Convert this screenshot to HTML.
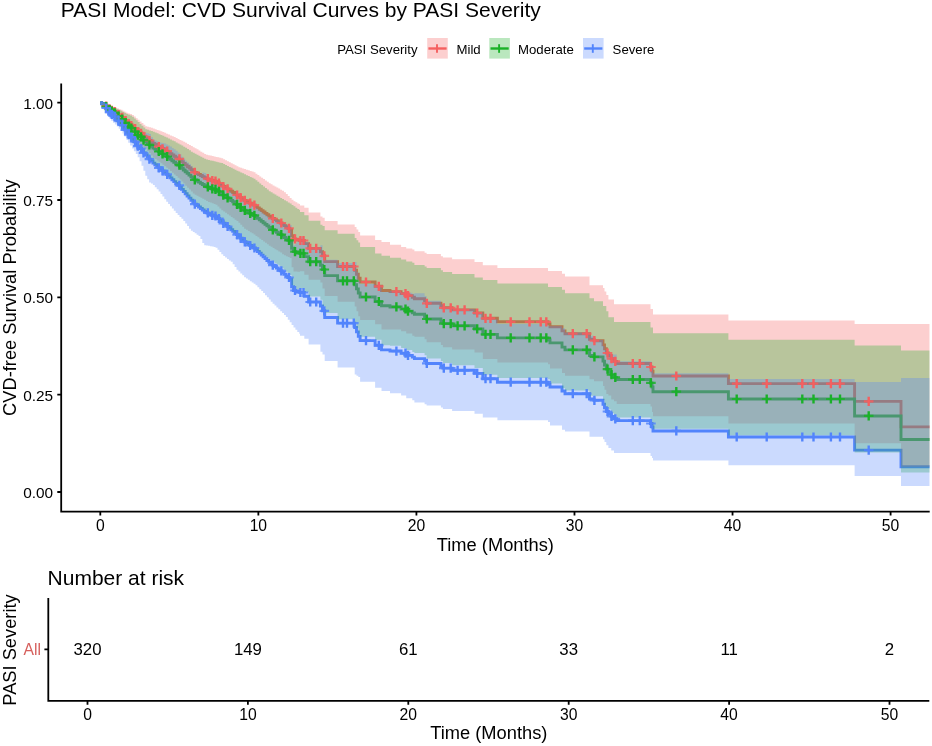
<!DOCTYPE html>
<html><head><meta charset="utf-8"><title>PASI Model: CVD Survival Curves</title>
<style>
html,body{margin:0;padding:0;background:#fff;}
body{width:932px;height:746px;overflow:hidden;}
svg{display:block;font-family:"Liberation Sans",sans-serif;will-change:transform;}
</style></head><body>
<svg width="932" height="746" viewBox="0 0 932 746">
<defs><clipPath id="pc"><rect x="61" y="83" width="868.7" height="428"/></clipPath></defs>
<rect width="932" height="746" fill="#fff"/>
<text x="60.8" y="16.7" font-size="21" fill="#000">PASI Model: CVD Survival Curves by PASI Severity</text>
<text x="337.2" y="53.6" font-size="13.2" fill="#000">PASI Severity</text>
<rect x="427.2" y="38" width="20.6" height="20.6" fill="#F55F5F" fill-opacity="0.3"/>
<path d="M428.4,48.5h18.2" stroke="#F55F5F" stroke-width="2.4" fill="none"/><path d="M437.0,44.2v8.6" stroke="#F55F5F" stroke-width="1.9" fill="none"/>
<text x="456.5" y="53.6" font-size="13.2" fill="#000">Mild</text>
<rect x="489.3" y="38" width="20.6" height="20.6" fill="#19B128" fill-opacity="0.3"/>
<path d="M490.5,48.5h18.2" stroke="#19B128" stroke-width="2.4" fill="none"/><path d="M499.1,44.2v8.6" stroke="#19B128" stroke-width="1.9" fill="none"/>
<text x="518.0" y="53.6" font-size="13.2" fill="#000">Moderate</text>
<rect x="583.0" y="38" width="20.6" height="20.6" fill="#5284FC" fill-opacity="0.3"/>
<path d="M584.2,48.5h18.2" stroke="#5284FC" stroke-width="2.4" fill="none"/><path d="M592.8,44.2v8.6" stroke="#5284FC" stroke-width="1.9" fill="none"/>
<text x="612.6" y="53.6" font-size="13.2" fill="#000">Severe</text>
<g clip-path="url(#pc)">
<path d="M100.30,102.70H101.60V103.40H103.50V104.77H105.40V106.15H107.30V107.53H109.20V108.90H111.10V110.31H113.00V111.73H114.90V113.15H116.80V114.57H118.70V115.99H120.60V117.43H122.50V119.05H124.40V120.66H126.30V122.28H128.20V123.90H130.10V125.52H132.00V127.11H133.90V128.65H135.80V130.20H137.70V131.74H139.60V133.29H141.50V134.83H143.40V136.28H145.30V137.70H147.20V139.13H149.10V140.55H151.00V141.97H152.90V143.34H154.80V144.43H156.70V145.51H158.60V146.59H160.50V147.68H162.40V148.76H164.30V149.91H166.20V151.14H168.10V152.37H170.00V153.61H171.90V154.94H173.80V156.26H175.70V157.59H177.60V158.93H179.50V160.25H181.40V161.78H183.30V163.35H185.20V164.92H187.10V166.50H189.00V168.07H190.90V169.64H192.80V171.21H194.70V172.37H196.60V173.43H198.50V174.49H200.40V175.56H202.30V176.62H204.20V177.68H206.10V178.75H208.00V179.42H209.90V179.97H211.80V180.53H213.70V181.08H215.60V181.78H217.50V182.95H219.40V184.12H221.30V185.30H223.20V186.47H225.10V187.65H227.00V188.86H228.90V190.08H230.80V191.30H232.70V192.52H234.60V193.74H236.50V194.95H238.40V196.26H240.30V197.63H242.20V198.99H244.10V200.36H246.00V201.32H247.90V202.25H249.80V203.19H251.70V204.13H253.60V205.11H255.50V206.48H257.40V207.86H259.30V209.23H261.20V210.61H263.10V211.98H265.00V213.38H266.90V214.77H268.80V216.17H270.70V217.36H272.60V218.48H274.50V219.60H276.40V220.73H278.30V221.85H280.20V222.97H282.10V224.30H284.00V225.64H285.90V226.98H287.80V228.32H289.70V229.62H291.60V235.74H293.50V238.83H295.40V239.34H297.30V239.85H299.20V240.21H300.00V240.50H304.30V243.60H308.60V248.40H320.40V251.80H322.50V255.80H324.70V261.60H337.60V266.50H354.70V270.30H356.50V274.20H358.30V278.20H360.10V282.00H375.10V286.30H381.50V290.50H390.00V291.60H401.10V293.60H406.20V295.60H412.30V297.30H414.40V298.70H424.60V300.80H426.60V303.30H440.90V305.80H442.90V307.80H452.10V309.90H474.50V313.00H482.80V318.30H497.40V321.80H548.00V323.90H550.00V326.70H562.00V330.90H565.00V333.70H589.50V339.30H594.00V340.70H603.00V344.90H604.50V348.80H606.30V353.00H608.40V355.80H611.20V358.60H614.00V361.40H616.70V363.50H650.50V367.00H652.00V371.10H653.00V376.00H728.40V383.60H854.60V401.40H901.00V426.90H929.70" stroke="#F55F5F" stroke-width="2.9" fill="none"/>
<path d="M100.30,102.70H101.60V103.48H103.50V105.02H105.40V106.56H107.30V108.10H109.20V109.64H111.10V111.21H113.00V112.80H114.90V114.39H116.80V115.97H118.70V117.56H120.60V119.16H122.50V120.96H124.40V122.76H126.30V124.57H128.20V126.37H130.10V128.17H132.00V129.93H133.90V131.65H135.80V133.37H137.70V135.08H139.60V136.79H141.50V138.51H143.40V140.11H145.30V141.69H147.20V143.26H149.10V144.83H151.00V146.40H152.90V147.93H154.80V149.12H156.70V150.32H158.60V151.51H160.50V152.71H162.40V153.91H164.30V155.18H166.20V156.53H168.10V157.89H170.00V159.25H171.90V160.71H173.80V162.18H175.70V163.64H177.60V165.10H179.50V166.56H181.40V168.24H183.30V169.97H185.20V171.69H187.10V173.41H189.00V175.13H190.90V176.86H192.80V178.58H194.70V179.84H196.60V181.00H198.50V182.17H200.40V183.33H202.30V184.49H204.20V185.65H206.10V186.81H208.00V187.55H209.90V188.15H211.80V188.75H213.70V189.35H215.60V190.12H217.50V191.40H219.40V192.67H221.30V193.95H223.20V195.23H225.10V196.50H227.00V197.82H228.90V199.15H230.80V200.47H232.70V201.80H234.60V203.12H236.50V204.44H238.40V205.85H240.30V207.34H242.20V208.82H244.10V210.30H246.00V211.33H247.90V212.34H249.80V213.36H251.70V214.38H253.60V215.43H255.50V216.91H257.40V218.39H259.30V219.88H261.20V221.36H263.10V222.84H265.00V224.34H266.90V225.84H268.80V227.34H270.70V228.62H272.60V229.82H274.50V231.03H276.40V232.23H278.30V233.44H280.20V234.64H282.10V236.07H284.00V237.50H285.90V238.94H287.80V240.37H289.70V241.76H291.60V248.28H293.50V251.57H295.40V252.11H297.30V252.65H299.20V253.03H300.00V253.35H304.30V256.64H308.60V261.73H320.40V265.32H322.50V269.55H324.70V275.66H337.60V280.80H354.70V284.78H356.50V288.86H358.30V293.04H360.10V296.99H375.10V301.46H381.50V305.81H390.00V306.95H401.10V309.02H406.20V311.08H412.30V312.83H414.40V314.28H424.60V316.44H426.60V319.01H440.90V321.57H442.90V323.62H452.10V325.77H474.50V328.93H482.80V334.33H497.40V337.89H548.00V340.01H550.00V342.85H562.00V347.09H565.00V349.90H589.50V355.52H594.00V356.92H603.00V361.11H604.50V364.99H606.30V369.16H608.40V371.93H611.20V374.69H614.00V377.44H616.70V379.50H650.50V382.93H652.00V386.93H653.00V391.69H728.40V399.02H854.60V415.94H901.00V439.47H929.70" stroke="#19B128" stroke-width="2.9" fill="none"/>
<path d="M100.30,102.70H101.60V103.77H103.50V105.87H105.40V107.97H107.30V110.06H109.20V112.15H111.10V114.28H113.00V116.43H114.90V118.57H116.80V120.72H118.70V122.85H120.60V125.01H122.50V127.43H124.40V129.85H126.30V132.26H128.20V134.67H130.10V137.07H132.00V139.42H133.90V141.70H135.80V143.98H137.70V146.25H139.60V148.51H141.50V150.78H143.40V152.89H145.30V154.96H147.20V157.03H149.10V159.09H151.00V161.15H152.90V163.13H154.80V164.70H156.70V166.25H158.60V167.81H160.50V169.37H162.40V170.92H164.30V172.57H166.20V174.32H168.10V176.07H170.00V177.83H171.90V179.71H173.80V181.60H175.70V183.48H177.60V185.35H179.50V187.22H181.40V189.37H183.30V191.57H185.20V193.76H187.10V195.95H189.00V198.14H190.90V200.32H192.80V202.49H194.70V204.08H196.60V205.55H198.50V207.01H200.40V208.47H202.30V209.93H204.20V211.38H206.10V212.83H208.00V213.75H209.90V214.50H211.80V215.25H213.70V216.00H215.60V216.95H217.50V218.54H219.40V220.13H221.30V221.71H223.20V223.29H225.10V224.87H227.00V226.50H228.90V228.13H230.80V229.76H232.70V231.38H234.60V233.01H236.50V234.62H238.40V236.35H240.30V238.16H242.20V239.96H244.10V241.76H246.00V243.01H247.90V244.24H249.80V245.47H251.70V246.69H253.60V247.96H255.50V249.75H257.40V251.53H259.30V253.31H261.20V255.08H263.10V256.85H265.00V258.64H266.90V260.43H268.80V262.21H270.70V263.72H272.60V265.15H274.50V266.57H276.40V267.99H278.30V269.41H280.20V270.82H282.10V272.50H284.00V274.18H285.90V275.85H287.80V277.52H289.70V279.14H291.60V286.68H293.50V290.46H295.40V291.08H297.30V291.69H299.20V292.13H300.00V292.49H304.30V296.24H308.60V301.99H320.40V306.04H322.50V310.75H324.70V317.52H337.60V323.16H354.70V327.50H356.50V331.90H358.30V336.38H360.10V340.59H375.10V345.31H381.50V349.87H390.00V351.05H401.10V353.20H406.20V355.34H412.30V357.14H414.40V358.62H424.60V360.83H426.60V363.45H440.90V366.04H442.90V368.11H452.10V370.26H474.50V373.42H482.80V378.75H497.40V382.22H548.00V384.29H550.00V387.02H562.00V391.07H565.00V393.74H589.50V399.01H594.00V400.31H603.00V404.18H604.50V407.72H606.30V411.47H608.40V413.94H611.20V416.38H614.00V418.79H616.70V420.59H650.50V423.54H652.00V426.95H653.00V430.94H728.40V436.95H854.60V450.16H901.00V466.77H929.70" stroke="#5284FC" stroke-width="2.9" fill="none"/>
<path d="M100.30,102.70L101.60,102.70L101.60,102.70L103.50,102.70L103.50,103.22L105.40,103.22L105.40,103.91L107.30,103.91L107.30,104.61L109.20,104.61L109.20,105.30L111.10,105.30L111.10,106.04L113.00,106.04L113.00,106.79L114.90,106.79L114.90,107.55L116.80,107.55L116.80,108.31L118.70,108.31L118.70,109.06L120.60,109.06L120.60,109.82L122.50,109.82L122.50,110.77L124.40,110.77L124.40,111.73L126.30,111.73L126.30,112.68L128.20,112.68L128.20,113.38L130.10,113.38L130.10,113.95L132.00,113.95L132.00,114.94L133.90,114.94L133.90,116.56L135.80,116.56L135.80,118.18L137.70,118.18L137.70,119.81L139.60,119.81L139.60,121.46L141.50,121.46L141.50,123.11L143.40,123.11L143.40,124.72L145.30,124.72L145.30,126.24L147.20,126.24L147.20,126.77L149.10,126.77L149.10,127.31L151.00,127.31L151.00,127.84L152.90,127.84L152.90,128.40L154.80,128.40L154.80,129.14L156.70,129.14L156.70,129.88L158.60,129.88L158.60,130.61L160.50,130.61L160.50,131.35L162.40,131.35L162.40,132.09L164.30,132.09L164.30,132.87L166.20,132.87L166.20,133.71L168.10,133.71L168.10,134.54L170.00,134.54L170.00,135.38L171.90,135.38L171.90,136.21L173.80,136.21L173.80,137.05L175.70,137.05L175.70,137.98L177.60,137.98L177.60,138.94L179.50,138.94L179.50,139.90L181.40,139.90L181.40,140.86L183.30,140.86L183.30,141.82L185.20,141.82L185.20,142.80L187.10,142.80L187.10,143.89L189.00,143.89L189.00,144.98L190.90,144.98L190.90,146.07L192.80,146.07L192.80,147.16L194.70,147.16L194.70,148.25L196.60,148.25L196.60,149.37L198.50,149.37L198.50,150.51L200.40,150.51L200.40,151.65L202.30,151.65L202.30,152.79L204.20,152.79L204.20,153.93L206.10,153.93L206.10,154.72L208.00,154.72L208.00,155.15L209.90,155.15L209.90,155.59L211.80,155.59L211.80,156.03L213.70,156.03L213.70,156.46L215.60,156.46L215.60,156.90L217.50,156.90L217.50,157.34L219.40,157.34L219.40,157.77L221.30,157.77L221.30,158.23L223.20,158.23L223.20,159.24L225.10,159.24L225.10,160.26L227.00,160.26L227.00,161.27L228.90,161.27L228.90,162.29L230.80,162.29L230.80,163.30L232.70,163.30L232.70,164.32L234.60,164.32L234.60,165.33L236.50,165.33L236.50,166.35L238.40,166.35L238.40,167.15L240.30,167.15L240.30,167.79L242.20,167.79L242.20,168.43L244.10,168.43L244.10,169.06L246.00,169.06L246.00,169.70L247.90,169.70L247.90,170.34L249.80,170.34L249.80,170.98L251.70,170.98L251.70,171.61L253.60,171.61L253.60,172.31L255.50,172.31L255.50,173.67L257.40,173.67L257.40,175.02L259.30,175.02L259.30,176.38L261.20,176.38L261.20,177.74L263.10,177.74L263.10,179.10L265.00,179.10L265.00,180.46L266.90,180.46L266.90,181.82L268.80,181.82L268.80,183.18L270.70,183.18L270.70,184.31L272.60,184.31L272.60,185.38L274.50,185.38L274.50,186.45L276.40,186.45L276.40,187.52L278.30,187.52L278.30,188.59L280.20,188.59L280.20,189.65L282.10,189.65L282.10,190.72L284.00,190.72L284.00,192.24L285.90,192.24L285.90,194.12L287.80,194.12L287.80,196.00L289.70,196.00L289.70,197.88L291.60,197.88L291.60,199.76L293.50,199.76L293.50,201.31L295.40,201.31L295.40,202.35L297.30,202.35L297.30,203.38L299.20,203.38L299.20,204.12L300.00,204.12L300.00,205.51L304.30,205.51L304.30,207.85L308.60,207.85L308.60,212.47L320.40,212.47L320.40,216.55L322.50,216.55L322.50,217.81L324.70,217.81L324.70,221.04L337.60,221.04L337.60,224.60L354.70,224.60L354.70,227.12L356.50,227.12L356.50,229.51L358.30,229.51L358.30,231.91L360.10,231.91L360.10,235.55L375.10,235.55L375.10,239.95L381.50,239.95L381.50,242.10L390.00,242.10L390.00,244.75L401.10,244.75L401.10,246.99L406.20,246.99L406.20,248.49L412.30,248.49L412.30,249.58L414.40,249.58L414.40,251.22L424.60,251.22L424.60,252.66L426.60,252.66L426.60,254.07L440.90,254.07L440.90,256.20L442.90,256.20L442.90,257.60L452.10,257.60L452.10,259.15L474.50,259.15L474.50,262.11L482.80,262.11L482.80,265.30L497.40,265.30L497.40,268.10L548.00,268.10L548.00,270.90L550.00,270.90L550.00,270.90L562.00,270.90L562.00,273.70L565.00,273.70L565.00,276.50L589.50,276.50L589.50,285.30L594.00,285.30L594.00,285.30L603.00,285.30L603.00,288.00L604.50,288.00L604.50,291.50L606.30,291.50L606.30,294.90L608.40,294.90L608.40,299.60L611.20,299.60L611.20,299.60L614.00,299.60L614.00,304.20L616.70,304.20L616.70,304.20L650.50,304.20L650.50,309.10L652.00,309.10L652.00,309.10L653.00,309.10L653.00,314.60L728.40,314.60L728.40,320.40L854.60,320.40L854.60,323.90L901.00,323.90L901.00,323.90L929.70,323.90L929.70,466.79L901.00,466.79L901.00,443.17L854.60,443.17L854.60,423.52L728.40,423.52L728.40,416.15L653.00,416.15L653.00,412.08L652.00,412.08L652.00,406.57L650.50,406.57L650.50,404.08L616.70,404.08L616.70,401.18L614.00,401.18L614.00,399.51L611.20,399.51L611.20,395.58L608.40,395.58L608.40,393.97L606.30,393.97L606.30,389.72L604.50,389.72L604.50,385.93L603.00,385.93L603.00,381.25L594.00,381.25L594.00,379.19L589.50,379.19L589.50,375.72L565.00,375.72L565.00,373.11L562.00,373.11L562.00,368.42L550.00,368.42L550.00,364.20L548.00,364.20L548.00,362.62L497.40,362.62L497.40,358.91L482.80,358.91L482.80,352.62L474.50,352.62L474.50,349.59L452.10,349.59L452.10,347.25L442.90,347.25L442.90,344.97L440.90,344.97L440.90,342.34L426.60,342.34L426.60,339.25L424.60,339.25L424.60,336.82L414.40,336.82L414.40,335.63L412.30,335.63L412.30,333.60L406.20,333.60L406.20,331.34L401.10,331.34L401.10,329.57L390.00,329.57L390.00,329.53L381.50,329.53L381.50,324.13L375.10,324.13L375.10,320.04L360.10,320.04L360.10,316.25L358.30,316.25L358.30,311.28L356.50,311.28L356.50,306.44L354.70,306.44L354.70,301.83L337.60,301.83L337.60,296.09L324.70,296.09L324.70,288.53L322.50,288.53L322.50,282.54L320.40,282.54L320.40,279.71L308.60,279.71L308.60,274.85L304.30,274.85L304.30,271.22L300.00,271.22L300.00,271.77L299.20,271.77L299.20,271.70L297.30,271.70L297.30,271.61L295.40,271.61L295.40,271.51L293.50,271.51L293.50,267.28L291.60,267.28L291.60,257.94L289.70,257.94L289.70,257.12L287.80,257.12L287.80,256.22L285.90,256.22L285.90,255.33L284.00,255.33L284.00,254.14L282.10,254.14L282.10,252.62L280.20,252.62L280.20,251.46L278.30,251.46L278.30,250.31L276.40,250.31L276.40,249.16L274.50,249.16L274.50,248.00L272.60,248.00L272.60,246.85L270.70,246.85L270.70,245.64L268.80,245.64L268.80,244.23L266.90,244.23L266.90,242.82L265.00,242.82L265.00,241.41L263.10,241.41L263.10,240.03L261.20,240.03L261.20,238.66L259.30,238.66L259.30,237.29L257.40,237.29L257.40,235.92L255.50,235.92L255.50,234.54L253.60,234.54L253.60,233.35L251.70,233.35L251.70,232.18L249.80,232.18L249.80,231.00L247.90,231.00L247.90,229.83L246.00,229.83L246.00,228.63L244.10,228.63L244.10,226.68L242.20,226.68L242.20,224.72L240.30,224.72L240.30,222.75L238.40,222.75L238.40,221.05L236.50,221.05L236.50,219.67L234.60,219.67L234.60,218.29L232.70,218.29L232.70,216.91L230.80,216.91L230.80,215.53L228.90,215.53L228.90,214.14L227.00,214.14L227.00,212.77L225.10,212.77L225.10,211.47L223.20,211.47L223.20,210.17L221.30,210.17L221.30,208.40L219.40,208.40L219.40,206.60L217.50,206.60L217.50,204.81L215.60,204.81L215.60,203.89L213.70,203.89L213.70,203.24L211.80,203.24L211.80,202.59L209.90,202.59L209.90,201.94L208.00,201.94L208.00,201.07L206.10,201.07L206.10,199.77L204.20,199.77L204.20,198.78L202.30,198.78L202.30,197.79L200.40,197.79L200.40,196.79L198.50,196.79L198.50,195.80L196.60,195.80L196.60,194.79L194.70,194.79L194.70,193.58L192.80,193.58L192.80,191.60L190.90,191.60L190.90,189.62L189.00,189.62L189.00,187.63L187.10,187.63L187.10,185.65L185.20,185.65L185.20,183.56L183.30,183.56L183.30,181.46L181.40,181.46L181.40,179.43L179.50,179.43L179.50,177.78L177.60,177.78L177.60,176.12L175.70,176.12L175.70,174.44L173.80,174.44L173.80,172.67L171.90,172.67L171.90,170.90L170.00,170.90L170.00,169.31L168.10,169.31L168.10,167.73L166.20,167.73L166.20,166.15L164.30,166.15L164.30,164.65L162.40,164.65L162.40,163.26L160.50,163.26L160.50,161.86L158.60,161.86L158.60,160.47L156.70,160.47L156.70,159.07L154.80,159.07L154.80,157.67L152.90,157.67L152.90,155.55L151.00,155.55L151.00,153.30L149.10,153.30L149.10,151.06L147.20,151.06L147.20,148.81L145.30,148.81L145.30,147.48L143.40,147.48L143.40,146.19L141.50,146.19L141.50,144.74L139.60,144.74L139.60,143.29L137.70,143.29L137.70,141.84L135.80,141.84L135.80,140.36L133.90,140.36L133.90,138.89L132.00,138.89L132.00,136.73L130.10,136.73L130.10,134.13L128.20,134.13L128.20,131.65L126.30,131.65L126.30,129.39L124.40,129.39L124.40,127.14L122.50,127.14L122.50,124.88L120.60,124.88L120.60,122.79L118.70,122.79L118.70,120.73L116.80,120.73L116.80,118.67L114.90,118.67L114.90,116.60L113.00,116.60L113.00,114.53L111.10,114.53L111.10,112.47L109.20,112.47L109.20,110.42L107.30,110.42L107.30,108.37L105.40,108.37L105.40,106.32L103.50,106.32L103.50,104.27L101.60,104.27L101.60,102.70L100.30,102.70Z" fill="#F55F5F" fill-opacity="0.3"/>
<path d="M100.30,102.70L101.60,102.70L101.60,102.70L103.50,102.70L103.50,103.31L105.40,103.31L105.40,104.10L107.30,104.10L107.30,104.89L109.20,104.89L109.20,105.68L111.10,105.68L111.10,106.52L113.00,106.52L113.00,107.38L114.90,107.38L114.90,108.24L116.80,108.24L116.80,109.10L118.70,109.10L118.70,109.96L120.60,109.96L120.60,110.82L122.50,110.82L122.50,111.90L124.40,111.90L124.40,112.97L126.30,112.97L126.30,114.05L128.20,114.05L128.20,114.85L130.10,114.85L130.10,115.51L132.00,115.51L132.00,116.63L133.90,116.63L133.90,118.43L135.80,118.43L135.80,120.23L137.70,120.23L137.70,122.05L139.60,122.05L139.60,123.89L141.50,123.89L141.50,125.72L143.40,125.72L143.40,127.51L145.30,127.51L145.30,129.20L147.20,129.20L147.20,129.81L149.10,129.81L149.10,130.42L151.00,130.42L151.00,131.03L152.90,131.03L152.90,131.67L154.80,131.67L154.80,132.49L156.70,132.49L156.70,133.32L158.60,133.32L158.60,134.15L160.50,134.15L160.50,134.98L162.40,134.98L162.40,135.80L164.30,135.80L164.30,136.68L166.20,136.68L166.20,137.61L168.10,137.61L168.10,138.55L170.00,138.55L170.00,139.48L171.90,139.48L171.90,140.41L173.80,140.41L173.80,141.35L175.70,141.35L175.70,142.39L177.60,142.39L177.60,143.46L179.50,143.46L179.50,144.53L181.40,144.53L181.40,145.60L183.30,145.60L183.30,146.68L185.20,146.68L185.20,147.78L187.10,147.78L187.10,148.99L189.00,148.99L189.00,150.21L190.90,150.21L190.90,151.69L192.80,151.69L192.80,152.70L194.70,152.70L194.70,153.72L196.60,153.72L196.60,154.73L198.50,154.73L198.50,155.75L200.40,155.75L200.40,156.76L202.30,156.76L202.30,157.78L204.20,157.78L204.20,158.79L206.10,158.79L206.10,159.52L208.00,159.52L208.00,159.97L209.90,159.97L209.90,160.42L211.80,160.42L211.80,160.87L213.70,160.87L213.70,161.32L215.60,161.32L215.60,161.77L217.50,161.77L217.50,162.21L219.40,162.21L219.40,162.66L221.30,162.66L221.30,163.12L223.20,163.12L223.20,164.07L225.10,164.07L225.10,165.01L227.00,165.01L227.00,165.96L228.90,165.96L228.90,166.90L230.80,166.90L230.80,167.85L232.70,167.85L232.70,168.79L234.60,168.79L234.60,169.73L236.50,169.73L236.50,170.68L238.40,170.68L238.40,171.59L240.30,171.59L240.30,172.47L242.20,172.47L242.20,173.36L244.10,173.36L244.10,174.24L246.00,174.24L246.00,175.13L247.90,175.13L247.90,176.01L249.80,176.01L249.80,176.90L251.70,176.90L251.70,177.78L253.60,177.78L253.60,178.72L255.50,178.72L255.50,180.27L257.40,180.27L257.40,181.83L259.30,181.83L259.30,183.38L261.20,183.38L261.20,184.93L263.10,184.93L263.10,186.48L265.00,186.48L265.00,188.03L266.90,188.03L266.90,189.58L268.80,189.58L268.80,191.13L270.70,191.13L270.70,192.35L272.60,192.35L272.60,193.47L274.50,193.47L274.50,194.59L276.40,194.59L276.40,195.71L278.30,195.71L278.30,196.83L280.20,196.83L280.20,197.95L282.10,197.95L282.10,199.07L284.00,199.07L284.00,200.19L285.90,200.19L285.90,201.31L287.80,201.31L287.80,202.43L289.70,202.43L289.70,203.55L291.60,203.55L291.60,204.92L293.50,204.92L293.50,206.32L295.40,206.32L295.40,207.72L297.30,207.72L297.30,209.12L299.20,209.12L299.20,210.11L300.00,210.11L300.00,211.99L304.30,211.99L304.30,215.16L308.60,215.16L308.60,220.71L320.40,220.71L320.40,224.84L322.50,224.84L322.50,226.12L324.70,226.12L324.70,230.35L337.60,230.35L337.60,233.77L354.70,233.77L354.70,238.08L356.50,238.08L356.50,240.24L358.30,240.24L358.30,242.40L360.10,242.40L360.10,247.06L375.10,247.06L375.10,253.52L381.50,253.52L381.50,255.85L390.00,255.85L390.00,257.77L401.10,257.77L401.10,259.62L406.20,259.62L406.20,261.48L412.30,261.48L412.30,262.85L414.40,262.85L414.40,264.90L424.60,264.90L424.60,266.56L426.60,266.56L426.60,267.97L440.90,267.97L440.90,270.36L442.90,270.36L442.90,272.04L452.10,272.04L452.10,273.99L474.50,273.99L474.50,277.45L482.80,277.45L482.80,280.00L497.40,280.00L497.40,283.50L548.00,283.50L548.00,287.00L550.00,287.00L550.00,287.00L562.00,287.00L562.00,289.80L565.00,289.80L565.00,293.20L589.50,293.20L589.50,298.30L594.00,298.30L594.00,301.30L603.00,301.30L603.00,306.00L604.50,306.00L604.50,306.00L606.30,306.00L606.30,311.20L608.40,311.20L608.40,317.20L611.20,317.20L611.20,317.20L614.00,317.20L614.00,321.90L616.70,321.90L616.70,321.90L650.50,321.90L650.50,327.50L652.00,327.50L652.00,327.50L653.00,327.50L653.00,333.20L728.40,333.20L728.40,339.70L854.60,339.70L854.60,345.50L901.00,345.50L901.00,350.40L929.70,350.40L929.70,472.52L901.00,472.52L901.00,452.51L854.60,452.51L854.60,435.23L728.40,435.23L728.40,428.63L653.00,428.63L653.00,424.89L652.00,424.89L652.00,419.68L650.50,419.68L650.50,417.60L616.70,417.60L616.70,414.85L614.00,414.85L614.00,413.27L611.20,413.27L611.20,409.52L608.40,409.52L608.40,408.54L606.30,408.54L606.30,405.28L604.50,405.28L604.50,399.90L603.00,399.90L603.00,396.32L594.00,396.32L594.00,395.84L589.50,395.84L589.50,390.43L565.00,390.43L565.00,388.14L562.00,388.14L562.00,383.48L550.00,383.48L550.00,379.32L548.00,379.32L548.00,378.09L497.40,378.09L497.40,374.74L482.80,374.74L482.80,368.06L474.50,368.06L474.50,365.25L452.10,365.25L452.10,363.10L442.90,363.10L442.90,360.95L440.90,360.95L440.90,358.41L426.60,358.41L426.60,355.28L424.60,355.28L424.60,352.92L414.40,352.92L414.40,351.92L412.30,351.92L412.30,350.01L406.20,350.01L406.20,347.91L401.10,347.91L401.10,345.80L390.00,345.80L390.00,345.20L381.50,345.20L381.50,339.76L375.10,339.76L375.10,336.75L360.10,336.75L360.10,333.40L358.30,333.40L358.30,328.09L356.50,328.09L356.50,322.90L354.70,322.90L354.70,319.27L337.60,319.27L337.60,313.12L324.70,313.12L324.70,305.88L322.50,305.88L322.50,299.67L320.40,299.67L320.40,296.54L308.60,296.54L308.60,291.90L304.30,291.90L304.30,288.59L300.00,288.59L300.00,289.42L299.20,289.42L299.20,289.49L297.30,289.49L297.30,289.58L295.40,289.58L295.40,289.66L293.50,289.66L293.50,285.09L291.60,285.09L291.60,274.90L289.70,274.90L289.70,273.33L287.80,273.33L287.80,271.69L285.90,271.69L285.90,270.04L284.00,270.04L284.00,268.39L282.10,268.39L282.10,266.75L280.20,266.75L280.20,265.50L278.30,265.50L278.30,264.25L276.40,264.25L276.40,263.00L274.50,263.00L274.50,261.75L272.60,261.75L272.60,260.49L270.70,260.49L270.70,259.19L268.80,259.19L268.80,257.75L266.90,257.75L266.90,256.31L265.00,256.31L265.00,254.87L263.10,254.87L263.10,253.46L261.20,253.46L261.20,252.06L259.30,252.06L259.30,250.65L257.40,250.65L257.40,249.24L255.50,249.24L255.50,247.83L253.60,247.83L253.60,246.70L251.70,246.70L251.70,245.60L249.80,245.60L249.80,244.50L247.90,244.50L247.90,243.39L246.00,243.39L246.00,242.26L244.10,242.26L244.10,240.33L242.20,240.33L242.20,238.39L240.30,238.39L240.30,236.45L238.40,236.45L238.40,234.66L236.50,234.66L236.50,233.04L234.60,233.04L234.60,231.43L232.70,231.43L232.70,229.82L230.80,229.82L230.80,228.20L228.90,228.20L228.90,226.57L227.00,226.57L227.00,224.96L225.10,224.96L225.10,223.43L223.20,223.43L223.20,221.89L221.30,221.89L221.30,219.95L219.40,219.95L219.40,217.99L217.50,217.99L217.50,216.03L215.60,216.03L215.60,215.01L213.70,215.01L213.70,214.29L211.80,214.29L211.80,213.56L209.90,213.56L209.90,212.83L208.00,212.83L208.00,211.86L206.10,211.86L206.10,210.35L204.20,210.35L204.20,209.07L202.30,209.07L202.30,207.79L200.40,207.79L200.40,206.51L198.50,206.51L198.50,205.23L196.60,205.23L196.60,203.95L194.70,203.95L194.70,202.48L192.80,202.48L192.80,200.16L190.90,200.16L190.90,198.24L189.00,198.24L189.00,196.09L187.10,196.09L187.10,193.94L185.20,193.94L185.20,191.68L183.30,191.68L183.30,189.40L181.40,189.40L181.40,187.20L179.50,187.20L179.50,185.40L177.60,185.40L177.60,183.59L175.70,183.59L175.70,181.77L173.80,181.77L173.80,179.84L171.90,179.84L171.90,177.91L170.00,177.91L170.00,176.17L168.10,176.17L168.10,174.44L166.20,174.44L166.20,172.72L164.30,172.72L164.30,171.09L162.40,171.09L162.40,169.56L160.50,169.56L160.50,168.04L158.60,168.04L158.60,166.51L156.70,166.51L156.70,164.98L154.80,164.98L154.80,163.45L152.90,163.45L152.90,161.12L151.00,161.12L151.00,158.67L149.10,158.67L149.10,156.21L147.20,156.21L147.20,153.75L145.30,153.75L145.30,152.28L143.40,152.28L143.40,150.85L141.50,150.85L141.50,149.25L139.60,149.25L139.60,147.65L137.70,147.65L137.70,146.03L135.80,146.03L135.80,144.40L133.90,144.40L133.90,142.77L132.00,142.77L132.00,140.39L130.10,140.39L130.10,137.53L128.20,137.53L128.20,134.79L126.30,134.79L126.30,132.30L124.40,132.30L124.40,129.81L122.50,129.81L122.50,127.31L120.60,127.31L120.60,125.00L118.70,125.00L118.70,122.72L116.80,122.72L116.80,120.43L114.90,120.43L114.90,118.14L113.00,118.14L113.00,115.85L111.10,115.85L111.10,113.56L109.20,113.56L109.20,111.28L107.30,111.28L107.30,109.00L105.40,109.00L105.40,106.72L103.50,106.72L103.50,104.44L101.60,104.44L101.60,102.70L100.30,102.70Z" fill="#19B128" fill-opacity="0.3"/>
<path d="M100.30,102.70L101.60,102.70L101.60,102.70L103.50,102.70L103.50,102.70L105.40,102.70L105.40,102.70L107.30,102.70L107.30,103.83L109.20,103.83L109.20,105.64L111.10,105.64L111.10,107.70L113.00,107.70L113.00,110.11L114.90,110.11L114.90,112.50L116.80,112.50L116.80,114.89L118.70,114.89L118.70,116.88L120.60,116.88L120.60,118.83L122.50,118.83L122.50,121.32L124.40,121.32L124.40,122.97L126.30,122.97L126.30,124.58L128.20,124.58L128.20,126.47L130.10,126.47L130.10,128.40L132.00,128.40L132.00,130.23L133.90,130.23L133.90,131.89L135.80,131.89L135.80,133.54L137.70,133.54L137.70,134.86L139.60,134.86L139.60,135.16L141.50,135.16L141.50,135.16L143.40,135.16L143.40,134.00L145.30,134.00L145.30,132.68L147.20,132.68L147.20,133.23L149.10,133.23L149.10,133.88L151.00,133.88L151.00,137.20L152.90,137.20L152.90,139.73L154.80,139.73L154.80,140.55L156.70,140.55L156.70,141.37L158.60,141.37L158.60,142.17L160.50,142.17L160.50,142.76L162.40,142.76L162.40,143.02L164.30,143.02L164.30,143.49L166.20,143.49L166.20,144.40L168.10,144.40L168.10,145.48L170.00,145.48L170.00,146.57L171.90,146.57L171.90,147.95L173.80,147.95L173.80,149.32L175.70,149.32L175.70,150.69L177.60,150.69L177.60,152.51L179.50,152.51L179.50,154.37L181.40,154.37L181.40,156.79L183.30,156.79L183.30,158.80L185.20,158.80L185.20,160.80L187.10,160.80L187.10,162.62L189.00,162.62L189.00,163.98L190.90,163.98L190.90,166.36L192.80,166.36L192.80,169.56L194.70,169.56L194.70,171.48L196.60,171.48L196.60,173.10L198.50,173.10L198.50,174.72L200.40,174.72L200.40,174.13L202.30,174.13L202.30,172.59L204.20,172.59L204.20,172.98L206.10,172.98L206.10,175.82L208.00,175.82L208.00,177.44L209.90,177.44L209.90,178.69L211.80,178.69L211.80,179.93L213.70,179.93L213.70,181.17L215.60,181.17L215.60,182.32L217.50,182.32L217.50,183.17L219.40,183.17L219.40,184.01L221.30,184.01L221.30,184.83L223.20,184.83L223.20,185.91L225.10,185.91L225.10,187.64L227.00,187.64L227.00,189.48L228.90,189.48L228.90,191.33L230.80,191.33L230.80,193.18L232.70,193.18L232.70,193.77L234.60,193.77L234.60,193.95L236.50,193.95L236.50,194.11L238.40,194.11L238.40,195.52L240.30,195.52L240.30,197.16L242.20,197.16L242.20,198.79L244.10,198.79L244.10,200.43L246.00,200.43L246.00,201.54L247.90,201.54L247.90,202.62L249.80,202.62L249.80,203.69L251.70,203.69L251.70,204.75L253.60,204.75L253.60,205.91L255.50,205.91L255.50,208.00L257.40,208.00L257.40,209.54L259.30,209.54L259.30,211.06L261.20,211.06L261.20,212.57L263.10,212.57L263.10,214.07L265.00,214.07L265.00,215.33L266.90,215.33L266.90,216.52L268.80,216.52L268.80,217.69L270.70,217.69L270.70,218.21L272.60,218.21L272.60,218.65L274.50,218.65L274.50,219.40L276.40,219.40L276.40,220.13L278.30,220.13L278.30,220.85L280.20,220.85L280.20,221.47L282.10,221.47L282.10,222.69L284.00,222.69L284.00,223.90L285.90,223.90L285.90,225.07L287.80,225.07L287.80,225.11L289.70,225.11L289.70,224.99L291.60,224.99L291.60,239.61L293.50,239.61L293.50,245.16L295.40,245.16L295.40,243.19L297.30,243.19L297.30,241.17L299.20,241.17L299.20,239.68L300.00,239.68L300.00,237.24L304.30,237.24L304.30,241.95L308.60,241.95L308.60,247.07L320.40,247.07L320.40,245.35L322.50,245.35L322.50,253.28L324.70,253.28L324.70,259.67L337.60,259.67L337.60,263.07L354.70,263.07L354.70,261.90L356.50,261.90L356.50,271.71L358.30,271.71L358.30,281.27L360.10,281.27L360.10,284.07L375.10,284.07L375.10,285.57L381.50,285.57L381.50,291.91L390.00,291.91L390.00,291.05L401.10,291.05L401.10,292.38L406.20,292.38L406.20,292.78L412.30,292.78L412.30,293.63L414.40,293.63L414.40,293.34L424.60,293.34L424.60,295.93L426.60,295.93L426.60,300.74L440.90,300.74L440.90,304.44L442.90,304.44L442.90,307.05L452.10,307.05L452.10,308.96L474.50,308.96L474.50,312.18L482.80,312.18L482.80,319.61L497.40,319.61L497.40,323.92L548.00,323.92L548.00,326.02L550.00,326.02L550.00,326.27L562.00,326.27L562.00,328.24L565.00,328.24L565.00,332.43L589.50,332.43L589.50,335.64L594.00,335.64L594.00,339.99L603.00,339.99L603.00,345.93L604.50,345.93L604.50,349.93L606.30,349.93L606.30,353.43L608.40,353.43L608.40,353.51L611.20,353.51L611.20,354.54L614.00,354.54L614.00,354.59L616.70,354.59L616.70,361.24L650.50,361.24L650.50,361.82L652.00,361.82L652.00,367.54L653.00,367.54L653.00,373.26L728.40,373.26L728.40,378.93L854.60,378.93L854.60,381.92L901.00,381.92L901.00,378.00L929.70,378.00L929.70,486.10L901.00,486.10L901.00,476.10L854.60,476.10L854.60,465.20L728.40,465.20L728.40,460.60L653.00,460.60L653.00,458.00L652.00,458.00L652.00,456.00L650.50,456.00L650.50,453.00L616.70,453.00L616.70,453.00L614.00,453.00L614.00,450.40L611.20,450.40L611.20,448.00L608.40,448.00L608.40,445.20L606.30,445.20L606.30,442.00L604.50,442.00L604.50,439.20L603.00,439.20L603.00,436.70L594.00,436.70L594.00,436.70L589.50,436.70L589.50,431.50L565.00,431.50L565.00,429.80L562.00,429.80L562.00,425.50L550.00,425.50L550.00,422.10L548.00,422.10L548.00,420.30L497.40,420.30L497.40,417.60L482.80,417.60L482.80,413.80L474.50,413.80L474.50,411.03L452.10,411.03L452.10,409.01L442.90,409.01L442.90,407.41L440.90,407.41L440.90,405.59L426.60,405.59L426.60,404.25L424.60,404.25L424.60,402.45L414.40,402.45L414.40,400.32L412.30,400.32L412.30,398.25L406.20,398.25L406.20,395.49L401.10,395.49L401.10,393.14L390.00,393.14L390.00,391.04L381.50,391.04L381.50,387.76L375.10,387.76L375.10,381.75L360.10,381.75L360.10,377.08L358.30,377.08L358.30,375.65L356.50,375.65L356.50,374.39L354.70,374.39L354.70,367.48L337.60,367.48L337.60,360.97L324.70,360.97L324.70,354.39L322.50,354.39L322.50,351.79L320.40,351.79L320.40,344.60L308.60,344.60L308.60,338.74L304.30,338.74L304.30,335.75L300.00,335.75L300.00,333.67L299.20,333.67L299.20,332.04L297.30,332.04L297.30,329.75L295.40,329.75L295.40,327.45L293.50,327.45L293.50,324.97L291.60,324.97L291.60,322.30L289.70,322.30L289.70,319.64L287.80,319.64L287.80,316.97L285.90,316.97L285.90,315.02L284.00,315.02L284.00,313.09L282.10,313.09L282.10,311.17L280.20,311.17L280.20,309.27L278.30,309.27L278.30,307.43L276.40,307.43L276.40,305.58L274.50,305.58L274.50,303.73L272.60,303.73L272.60,301.66L270.70,301.66L270.70,299.50L268.80,299.50L268.80,297.34L266.90,297.34L266.90,295.18L265.00,295.18L265.00,293.05L263.10,293.05L263.10,291.12L261.20,291.12L261.20,289.20L259.30,289.20L259.30,287.28L257.40,287.28L257.40,285.36L255.50,285.36L255.50,283.83L253.60,283.83L253.60,282.51L251.70,282.51L251.70,281.19L249.80,281.19L249.80,279.87L247.90,279.87L247.90,278.55L246.00,278.55L246.00,277.23L244.10,277.23L244.10,275.35L242.20,275.35L242.20,273.45L240.30,273.45L240.30,271.55L238.40,271.55L238.40,269.63L236.50,269.63L236.50,266.94L234.60,266.94L234.60,264.25L232.70,264.25L232.70,261.86L230.80,261.86L230.80,260.42L228.90,260.42L228.90,258.99L227.00,258.99L227.00,257.55L225.10,257.55L225.10,256.12L223.20,256.12L223.20,254.17L221.30,254.17L221.30,252.02L219.40,252.02L219.40,249.86L217.50,249.86L217.50,247.71L215.60,247.71L215.60,246.93L213.70,246.93L213.70,246.58L211.80,246.58L211.80,246.22L209.90,246.22L209.90,245.87L208.00,245.87L208.00,245.51L206.10,245.51L206.10,245.16L204.20,245.16L204.20,242.90L202.30,242.90L202.30,239.10L200.40,239.10L200.40,236.02L198.50,236.02L198.50,234.70L196.60,234.70L196.60,233.37L194.70,233.37L194.70,232.05L192.80,232.05L192.80,230.73L190.90,230.73L190.90,228.74L189.00,228.74L189.00,225.92L187.10,225.92L187.10,223.44L185.20,223.44L185.20,221.11L183.30,221.11L183.30,218.78L181.40,218.78L181.40,216.88L179.50,216.88L179.50,215.02L177.60,215.02L177.60,213.12L175.70,213.12L175.70,210.83L173.80,210.83L173.80,208.55L171.90,208.55L171.90,206.26L170.00,206.26L170.00,203.96L168.10,203.96L168.10,201.67L166.20,201.67L166.20,199.22L164.30,199.22L164.30,196.58L162.40,196.58L162.40,193.94L160.50,193.94L160.50,191.57L158.60,191.57L158.60,189.37L156.70,189.37L156.70,187.18L154.80,187.18L154.80,184.98L152.90,184.98L152.90,183.48L151.00,183.48L151.00,182.52L149.10,182.52L149.10,179.25L147.20,179.25L147.20,175.87L145.30,175.87L145.30,170.78L143.40,170.78L143.40,165.70L141.50,165.70L141.50,161.37L139.60,161.37L139.60,157.27L137.70,157.27L137.70,154.11L135.80,154.11L135.80,151.24L133.90,151.24L133.90,148.38L132.00,148.38L132.00,145.52L130.10,145.52L130.10,142.67L128.20,142.67L128.20,139.78L126.30,139.78L126.30,136.60L124.40,136.60L124.40,133.44L122.50,133.44L122.50,131.08L120.60,131.08L120.60,128.72L118.70,128.72L118.70,126.45L116.80,126.45L116.80,124.55L114.90,124.55L114.90,122.65L113.00,122.65L113.00,120.75L111.10,120.75L111.10,118.55L109.20,118.55L109.20,116.19L107.30,116.19L107.30,113.83L105.40,113.83L105.40,110.27L103.50,110.27L103.50,106.43L101.60,106.43L101.60,102.70L100.30,102.70Z" fill="#5284FC" fill-opacity="0.3"/>
<path d="M101.4,106.1h9.6M104.7,108.9h9.6M107.0,110.3h9.6M109.9,111.7h9.6M113.7,114.6h9.6M117.4,117.4h9.6M120.6,120.7h9.6M123.9,123.9h9.6M126.5,125.5h9.6M130.3,128.7h9.6M133.0,131.7h9.6M136.2,133.3h9.6M138.7,136.3h9.6M144.6,140.5h9.6M154.0,146.6h9.6M157.7,148.8h9.6M162.4,151.1h9.6M174.6,158.9h9.6M190.0,172.4h9.6M203.0,178.7h9.6M207.5,180.5h9.6M210.7,181.1h9.6M214.1,183.0h9.6M218.5,186.5h9.6M222.8,188.9h9.6M232.3,195.0h9.6M235.8,197.6h9.6M240.0,200.4h9.6M245.4,203.2h9.6M249.6,205.1h9.6M268.0,218.5h9.6M276.5,223.0h9.6M284.2,228.3h9.6M290.2,238.8h9.6M295.6,240.5h9.6M298.7,240.5h9.6M305.4,248.4h9.6M311.4,248.4h9.6M319.5,255.8h9.6M338.2,266.5h9.6M342.2,266.5h9.6M349.0,266.5h9.6M361.2,282.0h9.6M374.0,286.3h9.6M391.6,291.6h9.6M400.7,293.6h9.6M403.2,295.6h9.6M422.0,303.3h9.6M439.0,307.8h9.6M445.9,307.8h9.6M452.8,309.9h9.6M459.8,309.9h9.6M472.4,313.0h9.6M480.7,318.3h9.6M485.7,318.3h9.6M505.9,321.8h9.6M524.7,321.8h9.6M535.9,321.8h9.6M541.5,321.8h9.6M568.0,333.7h9.6M581.9,333.7h9.6M589.6,340.7h9.6M602.7,353.0h9.6M606.7,358.6h9.6M610.5,361.4h9.6M628.0,363.5h9.6M635.0,363.5h9.6M646.1,367.0h9.6M671.5,376.0h9.6M731.9,383.6h9.6M761.9,383.6h9.6M797.5,383.6h9.6M808.7,383.6h9.6M826.1,383.6h9.6M835.2,383.6h9.6M863.9,401.4h9.6" stroke="#F55F5F" stroke-width="2.2" stroke-opacity="0.85" fill="none"/><path d="M106.2,101.5v9.2M109.5,104.3v9.2M111.8,105.7v9.2M114.7,107.1v9.2M118.5,110.0v9.2M122.2,112.8v9.2M125.4,116.1v9.2M128.7,119.3v9.2M131.3,120.9v9.2M135.1,124.1v9.2M137.8,127.1v9.2M141.0,128.7v9.2M143.5,131.7v9.2M149.4,135.9v9.2M158.8,142.0v9.2M162.5,144.2v9.2M167.2,146.5v9.2M179.4,154.3v9.2M194.8,167.8v9.2M207.8,174.1v9.2M212.3,175.9v9.2M215.5,176.5v9.2M218.9,178.4v9.2M223.3,181.9v9.2M227.6,184.3v9.2M237.1,190.4v9.2M240.6,193.0v9.2M244.8,195.8v9.2M250.2,198.6v9.2M254.4,200.5v9.2M272.8,213.9v9.2M281.3,218.4v9.2M289.0,223.7v9.2M295.0,234.2v9.2M300.4,235.9v9.2M303.5,235.9v9.2M310.2,243.8v9.2M316.2,243.8v9.2M324.3,251.2v9.2M343.0,261.9v9.2M347.0,261.9v9.2M353.8,261.9v9.2M366.0,277.4v9.2M378.8,281.7v9.2M396.4,287.0v9.2M405.5,289.0v9.2M408.0,291.0v9.2M426.8,298.7v9.2M443.8,303.2v9.2M450.7,303.2v9.2M457.6,305.3v9.2M464.6,305.3v9.2M477.2,308.4v9.2M485.5,313.7v9.2M490.5,313.7v9.2M510.7,317.2v9.2M529.5,317.2v9.2M540.7,317.2v9.2M546.3,317.2v9.2M572.8,329.1v9.2M586.7,329.1v9.2M594.4,336.1v9.2M607.5,348.4v9.2M611.5,354.0v9.2M615.3,356.8v9.2M632.8,358.9v9.2M639.8,358.9v9.2M650.9,362.4v9.2M676.3,371.4v9.2M736.7,379.0v9.2M766.7,379.0v9.2M802.3,379.0v9.2M813.5,379.0v9.2M830.9,379.0v9.2M840.0,379.0v9.2M868.7,396.8v9.2" stroke="#F55F5F" stroke-width="2.4" fill="none"/>
<path d="M101.4,106.6h9.6M104.7,109.6h9.6M107.0,111.2h9.6M109.9,112.8h9.6M113.7,116.0h9.6M117.4,119.2h9.6M120.6,122.8h9.6M123.9,126.4h9.6M126.5,128.2h9.6M130.3,131.7h9.6M133.0,135.1h9.6M136.2,136.8h9.6M138.7,140.1h9.6M144.6,144.8h9.6M154.0,151.5h9.6M157.7,153.9h9.6M162.4,156.5h9.6M174.6,165.1h9.6M190.0,179.8h9.6M203.0,186.8h9.6M207.5,188.8h9.6M210.7,189.4h9.6M214.1,191.4h9.6M218.5,195.2h9.6M222.8,197.8h9.6M232.3,204.4h9.6M235.8,207.3h9.6M240.0,210.3h9.6M245.4,213.4h9.6M249.6,215.4h9.6M268.0,229.8h9.6M276.5,234.6h9.6M284.2,240.4h9.6M290.2,251.6h9.6M295.6,253.3h9.6M298.7,253.3h9.6M305.4,261.7h9.6M311.4,261.7h9.6M319.5,269.5h9.6M338.2,280.8h9.6M342.2,280.8h9.6M349.0,280.8h9.6M361.2,297.0h9.6M374.0,301.5h9.6M391.6,306.9h9.6M400.7,309.0h9.6M403.2,311.1h9.6M422.0,319.0h9.6M439.0,323.6h9.6M445.9,323.6h9.6M452.8,325.8h9.6M459.8,325.8h9.6M472.4,328.9h9.6M480.7,334.3h9.6M485.7,334.3h9.6M505.9,337.9h9.6M524.7,337.9h9.6M535.9,337.9h9.6M541.5,337.9h9.6M568.0,349.9h9.6M581.9,349.9h9.6M589.6,356.9h9.6M602.7,369.2h9.6M606.7,374.7h9.6M610.5,377.4h9.6M628.0,379.5h9.6M635.0,379.5h9.6M646.1,382.9h9.6M671.5,391.7h9.6M731.9,399.0h9.6M761.9,399.0h9.6M797.5,399.0h9.6M808.7,399.0h9.6M826.1,399.0h9.6M835.2,399.0h9.6M863.9,415.9h9.6" stroke="#19B128" stroke-width="2.2" stroke-opacity="0.85" fill="none"/><path d="M106.2,102.0v9.2M109.5,105.0v9.2M111.8,106.6v9.2M114.7,108.2v9.2M118.5,111.4v9.2M122.2,114.6v9.2M125.4,118.2v9.2M128.7,121.8v9.2M131.3,123.6v9.2M135.1,127.1v9.2M137.8,130.5v9.2M141.0,132.2v9.2M143.5,135.5v9.2M149.4,140.2v9.2M158.8,146.9v9.2M162.5,149.3v9.2M167.2,151.9v9.2M179.4,160.5v9.2M194.8,175.2v9.2M207.8,182.2v9.2M212.3,184.2v9.2M215.5,184.8v9.2M218.9,186.8v9.2M223.3,190.6v9.2M227.6,193.2v9.2M237.1,199.8v9.2M240.6,202.7v9.2M244.8,205.7v9.2M250.2,208.8v9.2M254.4,210.8v9.2M272.8,225.2v9.2M281.3,230.0v9.2M289.0,235.8v9.2M295.0,247.0v9.2M300.4,248.7v9.2M303.5,248.7v9.2M310.2,257.1v9.2M316.2,257.1v9.2M324.3,264.9v9.2M343.0,276.2v9.2M347.0,276.2v9.2M353.8,276.2v9.2M366.0,292.4v9.2M378.8,296.9v9.2M396.4,302.3v9.2M405.5,304.4v9.2M408.0,306.5v9.2M426.8,314.4v9.2M443.8,319.0v9.2M450.7,319.0v9.2M457.6,321.2v9.2M464.6,321.2v9.2M477.2,324.3v9.2M485.5,329.7v9.2M490.5,329.7v9.2M510.7,333.3v9.2M529.5,333.3v9.2M540.7,333.3v9.2M546.3,333.3v9.2M572.8,345.3v9.2M586.7,345.3v9.2M594.4,352.3v9.2M607.5,364.6v9.2M611.5,370.1v9.2M615.3,372.8v9.2M632.8,374.9v9.2M639.8,374.9v9.2M650.9,378.3v9.2M676.3,387.1v9.2M736.7,394.4v9.2M766.7,394.4v9.2M802.3,394.4v9.2M813.5,394.4v9.2M830.9,394.4v9.2M840.0,394.4v9.2M868.7,411.3v9.2" stroke="#19B128" stroke-width="2.4" fill="none"/>
<path d="M101.4,108.0h9.6M104.7,112.1h9.6M107.0,114.3h9.6M109.9,116.4h9.6M113.7,120.7h9.6M117.4,125.0h9.6M120.6,129.8h9.6M123.9,134.7h9.6M126.5,137.1h9.6M130.3,141.7h9.6M133.0,146.2h9.6M136.2,148.5h9.6M138.7,152.9h9.6M144.6,159.1h9.6M154.0,167.8h9.6M157.7,170.9h9.6M162.4,174.3h9.6M174.6,185.4h9.6M190.0,204.1h9.6M203.0,212.8h9.6M207.5,215.3h9.6M210.7,216.0h9.6M214.1,218.5h9.6M218.5,223.3h9.6M222.8,226.5h9.6M232.3,234.6h9.6M235.8,238.2h9.6M240.0,241.8h9.6M245.4,245.5h9.6M249.6,248.0h9.6M268.0,265.1h9.6M276.5,270.8h9.6M284.2,277.5h9.6M290.2,290.5h9.6M295.6,292.5h9.6M298.7,292.5h9.6M305.4,302.0h9.6M311.4,302.0h9.6M319.5,310.8h9.6M338.2,323.2h9.6M342.2,323.2h9.6M349.0,323.2h9.6M361.2,340.6h9.6M374.0,345.3h9.6M391.6,351.1h9.6M400.7,353.2h9.6M403.2,355.3h9.6M422.0,363.4h9.6M439.0,368.1h9.6M445.9,368.1h9.6M452.8,370.3h9.6M459.8,370.3h9.6M472.4,373.4h9.6M480.7,378.7h9.6M485.7,378.7h9.6M505.9,382.2h9.6M524.7,382.2h9.6M535.9,382.2h9.6M541.5,382.2h9.6M568.0,393.7h9.6M581.9,393.7h9.6M589.6,400.3h9.6M602.7,411.5h9.6M606.7,416.4h9.6M610.5,418.8h9.6M628.0,420.6h9.6M635.0,420.6h9.6M646.1,423.5h9.6M671.5,430.9h9.6M731.9,437.0h9.6M761.9,437.0h9.6M797.5,437.0h9.6M808.7,437.0h9.6M826.1,437.0h9.6M835.2,437.0h9.6M863.9,450.2h9.6" stroke="#5284FC" stroke-width="2.2" stroke-opacity="0.85" fill="none"/><path d="M106.2,103.4v9.2M109.5,107.5v9.2M111.8,109.7v9.2M114.7,111.8v9.2M118.5,116.1v9.2M122.2,120.4v9.2M125.4,125.2v9.2M128.7,130.1v9.2M131.3,132.5v9.2M135.1,137.1v9.2M137.8,141.6v9.2M141.0,143.9v9.2M143.5,148.3v9.2M149.4,154.5v9.2M158.8,163.2v9.2M162.5,166.3v9.2M167.2,169.7v9.2M179.4,180.8v9.2M194.8,199.5v9.2M207.8,208.2v9.2M212.3,210.7v9.2M215.5,211.4v9.2M218.9,213.9v9.2M223.3,218.7v9.2M227.6,221.9v9.2M237.1,230.0v9.2M240.6,233.6v9.2M244.8,237.2v9.2M250.2,240.9v9.2M254.4,243.4v9.2M272.8,260.5v9.2M281.3,266.2v9.2M289.0,272.9v9.2M295.0,285.9v9.2M300.4,287.9v9.2M303.5,287.9v9.2M310.2,297.4v9.2M316.2,297.4v9.2M324.3,306.2v9.2M343.0,318.6v9.2M347.0,318.6v9.2M353.8,318.6v9.2M366.0,336.0v9.2M378.8,340.7v9.2M396.4,346.5v9.2M405.5,348.6v9.2M408.0,350.7v9.2M426.8,358.8v9.2M443.8,363.5v9.2M450.7,363.5v9.2M457.6,365.7v9.2M464.6,365.7v9.2M477.2,368.8v9.2M485.5,374.1v9.2M490.5,374.1v9.2M510.7,377.6v9.2M529.5,377.6v9.2M540.7,377.6v9.2M546.3,377.6v9.2M572.8,389.1v9.2M586.7,389.1v9.2M594.4,395.7v9.2M607.5,406.9v9.2M611.5,411.8v9.2M615.3,414.2v9.2M632.8,416.0v9.2M639.8,416.0v9.2M650.9,418.9v9.2M676.3,426.3v9.2M736.7,432.4v9.2M766.7,432.4v9.2M802.3,432.4v9.2M813.5,432.4v9.2M830.9,432.4v9.2M840.0,432.4v9.2M868.7,445.6v9.2" stroke="#5284FC" stroke-width="2.4" fill="none"/>
</g>
<path d="M61.2,83.4V512.4M60.3,511.6H929.7" stroke="#000" stroke-width="1.8" fill="none"/>
<text x="53.1" y="497.90" font-size="15.4" text-anchor="end" fill="#000">0.00</text>
<text x="53.1" y="400.57" font-size="15.4" text-anchor="end" fill="#000">0.25</text>
<text x="53.1" y="303.25" font-size="15.4" text-anchor="end" fill="#000">0.50</text>
<text x="53.1" y="205.92" font-size="15.4" text-anchor="end" fill="#000">0.75</text>
<text x="53.1" y="108.60" font-size="15.4" text-anchor="end" fill="#000">1.00</text>
<text x="100.30" y="530.5" font-size="15.7" text-anchor="middle" fill="#000">0</text>
<text x="258.36" y="530.5" font-size="15.7" text-anchor="middle" fill="#000">10</text>
<text x="416.42" y="530.5" font-size="15.7" text-anchor="middle" fill="#000">20</text>
<text x="574.48" y="530.5" font-size="15.7" text-anchor="middle" fill="#000">30</text>
<text x="732.54" y="530.5" font-size="15.7" text-anchor="middle" fill="#000">40</text>
<text x="890.60" y="530.5" font-size="15.7" text-anchor="middle" fill="#000">50</text>
<path d="M57.3,492.00H61.2M57.3,394.68H61.2M57.3,297.35H61.2M57.3,200.02H61.2M57.3,102.70H61.2M100.30,511.6V515.5M258.36,511.6V515.5M416.42,511.6V515.5M574.48,511.6V515.5M732.54,511.6V515.5M890.60,511.6V515.5" stroke="#000" stroke-width="1.8" fill="none"/>
<text x="495.4" y="550.6" font-size="18.3" text-anchor="middle" fill="#000">Time (Months)</text>
<text transform="translate(15.7,297.6) rotate(-90)" x="0" y="0" font-size="18.3" text-anchor="middle" fill="#000">CVD-free Survival Probability</text>
<text x="47.6" y="585" font-size="21" fill="#000">Number at risk</text>
<path d="M48.3,598V701.6M47.4,700.8H929.3" stroke="#000" stroke-width="1.8" fill="none"/>
<text x="87.50" y="655.4" font-size="16.8" text-anchor="middle" fill="#000">320</text>
<text x="87.50" y="720" font-size="15.7" text-anchor="middle" fill="#000">0</text>
<text x="247.90" y="655.4" font-size="16.8" text-anchor="middle" fill="#000">149</text>
<text x="247.90" y="720" font-size="15.7" text-anchor="middle" fill="#000">10</text>
<text x="408.30" y="655.4" font-size="16.8" text-anchor="middle" fill="#000">61</text>
<text x="408.30" y="720" font-size="15.7" text-anchor="middle" fill="#000">20</text>
<text x="568.70" y="655.4" font-size="16.8" text-anchor="middle" fill="#000">33</text>
<text x="568.70" y="720" font-size="15.7" text-anchor="middle" fill="#000">30</text>
<text x="729.10" y="655.4" font-size="16.8" text-anchor="middle" fill="#000">11</text>
<text x="729.10" y="720" font-size="15.7" text-anchor="middle" fill="#000">40</text>
<text x="889.50" y="655.4" font-size="16.8" text-anchor="middle" fill="#000">2</text>
<text x="889.50" y="720" font-size="15.7" text-anchor="middle" fill="#000">50</text>
<path d="M44.4,649.4H48.3M87.50,700.8V704.7M247.90,700.8V704.7M408.30,700.8V704.7M568.70,700.8V704.7M729.10,700.8V704.7M889.50,700.8V704.7" stroke="#000" stroke-width="1.8" fill="none"/>
<text x="41" y="655" font-size="15.7" text-anchor="end" fill="#D65F5C">All</text>
<text x="488.8" y="739.4" font-size="18.3" text-anchor="middle" fill="#000">Time (Months)</text>
<text transform="translate(15.6,650) rotate(-90)" x="0" y="0" font-size="18.3" text-anchor="middle" fill="#000">PASI Severity</text>
</svg>
</body></html>
